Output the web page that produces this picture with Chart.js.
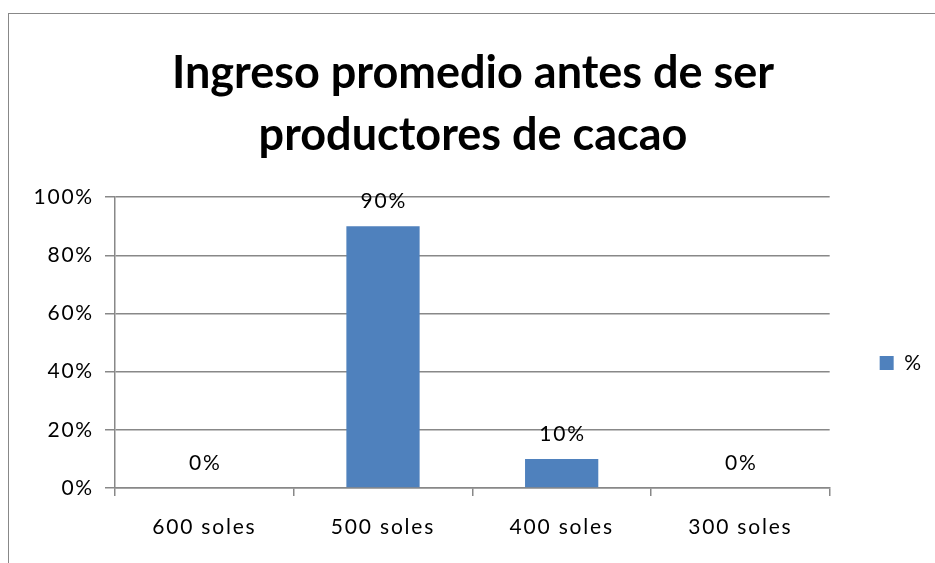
<!DOCTYPE html>
<html>
<head>
<meta charset="utf-8">
<script src="https://cdn.jsdelivr.net/npm/chart.js@4"></script>
<style>
  html, body { margin: 0; padding: 0; background: #fff; overflow: hidden; }
  #wrap { position: relative; width: 935px; height: 563px; }
  #frame { position: absolute; left: 8px; top: 13px; width: 1000px; height: 1000px; border: 1.5px solid #888; }
  canvas { position: absolute; left: 0; top: 0; }
</style>
</head>
<body>
<div id="wrap">
  <div id="frame"></div>
  <canvas id="incomeChart"></canvas>
</div>
<script>
const categories = ['600 soles', '500 soles', '400 soles', '300 soles'];
const values = [0, 90, 10, 0];
const seriesName = '%';
const titleLines = ['Ingreso promedio antes de ser', 'productores de cacao'];
const yTicks = [0, 20, 40, 60, 80, 100];

const axisGray = '#888888';
const barBlue = '#4F81BD';
const smallFont = 21;
const spacing = 1.8;

// Excel-like wide letter spacing for small text; title stays normal
const valueLabels = {
    id: 'valueLabels',
    beforeDraw(chart) {
        chart.ctx.letterSpacing = '0px';
    },
    afterDatasetsDraw(chart) {
        const ctx = chart.ctx;
        ctx.letterSpacing = spacing + 'px';
        ctx.save();
        ctx.font = smallFont + 'px Lato';
        ctx.fillStyle = '#000';
        ctx.textAlign = 'center';
        ctx.textBaseline = 'middle';
        chart.getDatasetMeta(0).data.forEach((bar, i) => {
            ctx.fillText(values[i] + '%', bar.x + spacing / 2, bar.y - 25);
        });
        ctx.restore();
    }
};

Chart.defaults.font.family = 'Lato';
Chart.defaults.color = '#000';

const ctx = document.getElementById('incomeChart').getContext('2d');
new Chart(ctx, {
    type: 'bar',
    data: {
        labels: categories,
        datasets: [{
            label: seriesName,
            data: values,
            backgroundColor: barBlue,
            barPercentage: 0.41,
            categoryPercentage: 1.0
        }]
    },
    plugins: [valueLabels],
    options: {
        responsive: true,
        maintainAspectRatio: false,
        animation: false,
        layout: { padding: { left: 15, right: 4, top: 0, bottom: 0 } },
        plugins: {
            title: {
                display: true,
                text: titleLines,
                font: { size: 45, weight: 'bold', lineHeight: 1.38 },
                color: '#000',
                padding: { top: 42, bottom: 31 }
            },
            legend: {
                position: 'right',
                fullSize: false,
                title: { display: true, text: '', font: { size: 10, lineHeight: 1 }, padding: { top: 0, bottom: 31 } },
                labels: {
                    boxWidth: 14,
                    boxHeight: 14,
                    padding: 50,
                    font: { size: smallFont },
                    color: '#000'
                }
            },
            tooltip: { enabled: false }
        },
        scales: {
            y: {
                min: 0,
                max: 100,
                afterFit: (scale) => { scale.width = 100; },
                afterBuildTicks: (scale) => { scale.ticks = yTicks.map(v => ({ value: v })); },
                grid: { color: axisGray, lineWidth: 1.5, tickLength: 10 },
                border: { color: axisGray, width: 1.5 },
                ticks: {
                    z: 1,
                    padding: 11,
                    font: { size: smallFont },
                    color: '#000',
                    callback: (v) => v + '%'
                }
            },
            x: {
                afterFit: (scale) => { scale.height = 75; },
                grid: { drawOnChartArea: false, color: axisGray, lineWidth: 1.5, tickLength: 8 },
                border: { color: axisGray, width: 1.5 },
                ticks: {
                    z: 1,
                    padding: 19,
                    font: { size: smallFont },
                    color: '#000'
                }
            }
        }
    }
});
</script>
</body>
</html>
